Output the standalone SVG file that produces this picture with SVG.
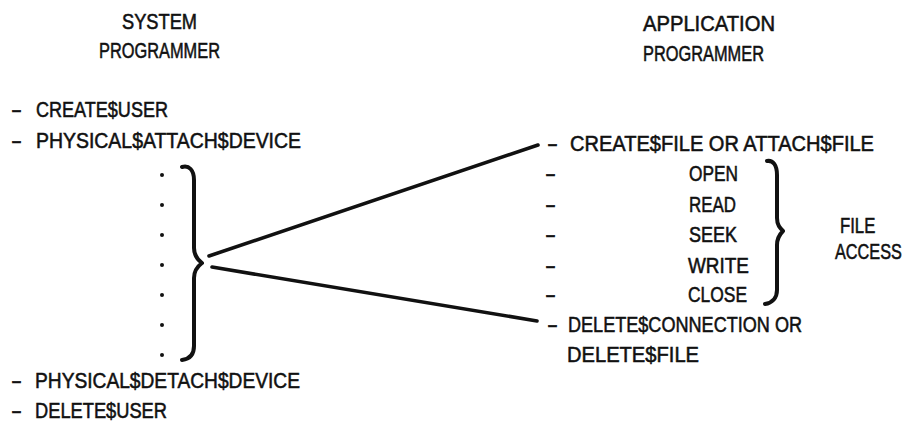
<svg xmlns="http://www.w3.org/2000/svg" width="913" height="422" viewBox="0 0 913 422">
  <style>
    text { font-family: "Liberation Sans", Arial, sans-serif; font-size: 22px; fill: #111; stroke: #111; stroke-width: 0.55px; }
    .brace { fill: none; stroke: #111; stroke-width: 4; stroke-linecap: round; stroke-linejoin: round; }
    .link { fill: none; stroke: #111; stroke-width: 3.6; stroke-linecap: round; }
    .dot { fill: #111; }
  </style>
  <rect width="913" height="422" fill="#fff"/>

  <!-- column headings -->
  <g id="system-programmer">
    <text x="122" y="29" textLength="75" lengthAdjust="spacingAndGlyphs">SYSTEM</text>
    <text x="99" y="58" textLength="121" lengthAdjust="spacingAndGlyphs">PROGRAMMER</text>
  </g>
  <g id="application-programmer">
    <text x="643" y="31" textLength="132" lengthAdjust="spacingAndGlyphs">APPLICATION</text>
    <text x="643" y="61" textLength="121" lengthAdjust="spacingAndGlyphs">PROGRAMMER</text>
  </g>

  <!-- system programmer calls -->
  <g id="system-calls">
    <text x="11" y="117"><tspan textLength="11" lengthAdjust="spacingAndGlyphs">-</tspan> <tspan x="36" textLength="132" lengthAdjust="spacingAndGlyphs">CREATE$USER</tspan></text>
    <text x="11" y="148"><tspan textLength="11" lengthAdjust="spacingAndGlyphs">-</tspan> <tspan x="36" textLength="265" lengthAdjust="spacingAndGlyphs">PHYSICAL$ATTACH$DEVICE</tspan></text>
    <text x="11" y="388"><tspan textLength="11" lengthAdjust="spacingAndGlyphs">-</tspan> <tspan x="35" textLength="265" lengthAdjust="spacingAndGlyphs">PHYSICAL$DETACH$DEVICE</tspan></text>
    <text x="11" y="418"><tspan textLength="11" lengthAdjust="spacingAndGlyphs">-</tspan> <tspan x="35" textLength="132" lengthAdjust="spacingAndGlyphs">DELETE$USER</tspan></text>
  </g>

  <!-- elided calls and grouping brace -->
  <g id="system-ellipsis">
    <circle class="dot" cx="162" cy="175" r="2"/>
    <circle class="dot" cx="162" cy="205" r="2"/>
    <circle class="dot" cx="162" cy="235" r="2"/>
    <circle class="dot" cx="162" cy="265" r="2"/>
    <circle class="dot" cx="162" cy="295" r="2"/>
    <circle class="dot" cx="162" cy="325" r="2"/>
    <circle class="dot" cx="162" cy="355" r="2"/>
    <path class="brace" d="M182,167 C189,165 194,170 194,180 L194,248 C194,256 198,260 202,263 C198,266 194,270 194,278 L194,346 C194,354 190,359 182,360"/>
  </g>

  <!-- application programmer calls -->
  <g id="application-calls">
    <text x="547" y="151"><tspan textLength="11" lengthAdjust="spacingAndGlyphs">-</tspan> <tspan x="570" textLength="304" lengthAdjust="spacingAndGlyphs">CREATE$FILE OR ATTACH$FILE</tspan></text>
    <text x="545" y="181"><tspan textLength="11" lengthAdjust="spacingAndGlyphs">-</tspan> <tspan x="689" textLength="49" lengthAdjust="spacingAndGlyphs">OPEN</tspan></text>
    <text x="545" y="212"><tspan textLength="11" lengthAdjust="spacingAndGlyphs">-</tspan> <tspan x="689" textLength="47" lengthAdjust="spacingAndGlyphs">READ</tspan></text>
    <text x="545" y="242"><tspan textLength="11" lengthAdjust="spacingAndGlyphs">-</tspan> <tspan x="689" textLength="48" lengthAdjust="spacingAndGlyphs">SEEK</tspan></text>
    <text x="545" y="273"><tspan textLength="11" lengthAdjust="spacingAndGlyphs">-</tspan> <tspan x="688" textLength="61" lengthAdjust="spacingAndGlyphs">WRITE</tspan></text>
    <text x="545" y="302"><tspan textLength="11" lengthAdjust="spacingAndGlyphs">-</tspan> <tspan x="688" textLength="59" lengthAdjust="spacingAndGlyphs">CLOSE</tspan></text>
    <text x="547" y="332"><tspan textLength="11" lengthAdjust="spacingAndGlyphs">-</tspan> <tspan x="568" textLength="234" lengthAdjust="spacingAndGlyphs">DELETE$CONNECTION OR</tspan></text>
    <text x="567" y="362" textLength="132" lengthAdjust="spacingAndGlyphs">DELETE$FILE</text>
  </g>

  <!-- file access group: labels narrowed by a horizontal scale -->
  <g id="file-access">
    <path class="brace" d="M767,161 C773,160 777,165 777,175 L777,218 C777,225 780,228 783,231 C780,234 777,238 777,245 L777,290 C777,298 772,303 765,304"/>
    <text transform="translate(840,233) scale(0.76,1)">FILE</text>
    <text transform="translate(835,259) scale(0.74,1)">ACCESS</text>
  </g>

  <!-- connectors from the system brace to the file calls -->
  <g id="connectors">
    <line class="link" x1="209" y1="256" x2="538" y2="145"/>
    <line class="link" x1="212" y1="267" x2="537" y2="321"/>
  </g>
</svg>
